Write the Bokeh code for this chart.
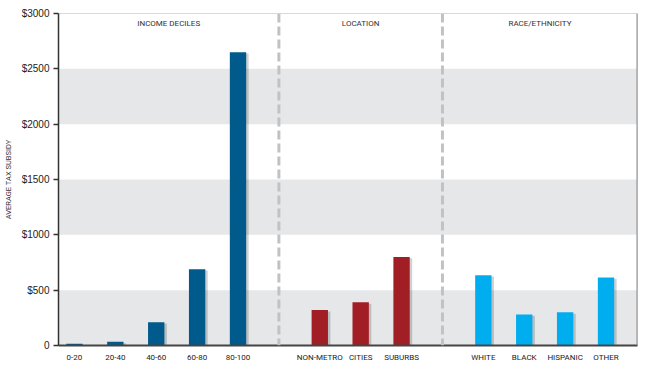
from bokeh.plotting import figure
from bokeh.models import Range1d, FixedTicker, BoxAnnotation, Span, Label, ColumnDataSource
from bokeh.embed import file_html
from bokeh.resources import INLINE

# ---- data ----
group_names = ["INCOME DECILES", "LOCATION", "RACE/ETHNICITY"]
income_labels = ["0-20", "20-40", "40-60", "60-80", "80-100"]
income_values = [15, 33, 210, 690, 2650]
location_labels = ["NON-METRO", "CITIES", "SUBURBS"]
location_values = [320, 390, 800]
race_labels = ["WHITE", "BLACK", "HISPANIC", "OTHER"]
race_values = [635, 280, 300, 615]
y_ticks = [0, 500, 1000, 1500, 2000, 2500, 3000]
y_tick_labels = ["0", "$500", "$1000", "$1500", "$2000", "$2500", "$3000"]

group_labels = [income_labels, location_labels, race_labels]
group_values = [income_values, location_values, race_values]
group_colors = ["#005a8c", "#a11e25", "#00aeef"]

FONT = "Liberation Sans"
NARROW = "Roboto"

p = figure(width=644, height=364, output_backend="svg", toolbar_location=None,
           x_range=Range1d(-0.39, 13.77), y_range=Range1d(0, 3000),
           min_border_left=56, min_border_right=7, min_border_top=13, min_border_bottom=12)
p.background_fill_color = "white"
p.border_fill_color = "white"
p.outline_line_color = "#d9d9d9"
p.outline_line_width = 1
p.xgrid.visible = False
p.ygrid.visible = False

# alternating bands
for lo in (0, 1000, 2000):
    p.add_layout(BoxAnnotation(bottom=lo, top=lo + 500, fill_color="#e6e7e8",
                               fill_alpha=1, line_alpha=0, level="underlay"))

# bars
slot = 0
tick_pos = []
tick_text = []
section_edges = [-0.39]
dividers = []
for gi, (labels, vals, col) in enumerate(zip(group_labels, group_values, group_colors)):
    xs = list(range(slot, slot + len(labels)))
    src = ColumnDataSource(dict(x=xs, top=vals,
                                sx=[x + 0.05 for x in xs],
                                stop=[v - 12 for v in vals]))
    p.vbar(x="sx", top="stop", width=0.42, source=src, fill_color="black",
           fill_alpha=0.18, line_alpha=0)
    p.vbar(x="x", top="top", width=0.4, source=src, fill_color=col, line_alpha=0)
    tick_pos += xs
    tick_text += labels
    slot += len(labels)
    if gi < len(group_labels) - 1:
        dividers.append(slot)
        section_edges.append(slot)
        slot += 1
section_edges.append(13.77)

for d in dividers:
    p.add_layout(Span(location=d, dimension="height", line_color="#c2c2c2",
                      line_width=3, line_dash="9 4"))

for gi, name in enumerate(group_names):
    cx = (section_edges[gi] + section_edges[gi + 1]) / 2
    p.add_layout(Label(x=cx, y=2910, text=name, text_align="center",
                       text_baseline="middle", text_font=NARROW,
                       text_font_size="8px", text_color="#333333"))

# right edge shadow
p.add_layout(Span(location=13.77, dimension="height", line_color="#8a8a8a", line_width=2))

# y axis
ya = p.yaxis[0]
ya.ticker = FixedTicker(ticks=y_ticks)
ya.major_label_overrides = {t: l for t, l in zip(y_ticks, y_tick_labels)}
ya.minor_tick_line_color = None
ya.major_tick_in = 0
ya.major_tick_out = 5
ya.major_tick_line_color = "#333333"
ya.major_tick_line_width = 1.5
ya.axis_line_color = "#333333"
ya.axis_line_width = 1.5
ya.major_label_text_font = FONT
ya.major_label_text_font_size = "10px"
ya.major_label_text_color = "#222222"
ya.major_label_standoff = 4
ya.axis_label = "AVERAGE TAX SUBSIDY"
ya.axis_label_text_font = NARROW
ya.axis_label_text_font_style = "normal"
ya.axis_label_text_font_size = "7.5px"
ya.axis_label_text_color = "#333333"
ya.axis_label_standoff = 6

# x axis
xa = p.xaxis[0]
xa.ticker = FixedTicker(ticks=tick_pos)
xa.major_label_overrides = {t: l for t, l in zip(tick_pos, tick_text)}
xa.minor_tick_line_color = None
xa.major_tick_line_color = None
xa.major_tick_out = 0
xa.axis_line_color = "#444444"
xa.axis_line_width = 2
xa.major_label_text_font = NARROW
xa.major_label_text_font_size = "8px"
xa.major_label_text_color = "#222222"
xa.major_label_standoff = 7

open("out.html", "w").write(file_html(p, INLINE))
